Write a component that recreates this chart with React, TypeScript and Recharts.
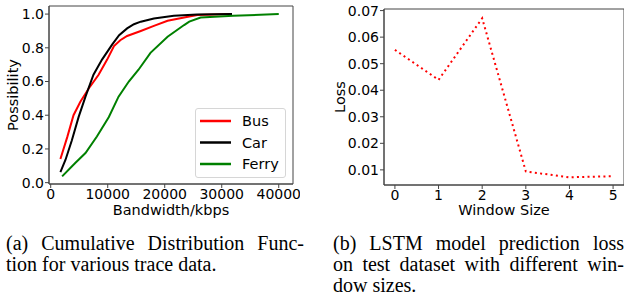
import React from 'react';
import { LineChart, Line, XAxis, YAxis, ReferenceArea, Legend, Label } from 'recharts';

// (a) CDF of bandwidth per trace type
const busBandwidth = [1700, 2900, 4000, 5200, 6700, 8400, 9900, 11100, 12200, 13400, 15800, 18100, 20500, 23400, 25700, 31800];
const busPossibility = [0.14, 0.27, 0.4, 0.48, 0.56, 0.64, 0.73, 0.81, 0.845, 0.87, 0.9, 0.93, 0.96, 0.98, 0.994, 1.0];

const carBandwidth = [1700, 2600, 3700, 4900, 6100, 7500, 9000, 10800, 12000, 13400, 14600, 15800, 18100, 21600, 25700, 31800];
const carPossibility = [0.063, 0.136, 0.25, 0.39, 0.51, 0.64, 0.73, 0.82, 0.875, 0.915, 0.94, 0.955, 0.974, 0.99, 0.998, 1.0];

const ferryBandwidth = [2000, 4300, 6100, 8100, 10200, 11900, 13700, 15400, 17500, 20500, 23400, 24300, 26300, 32000, 40000];
const ferryPossibility = [0.037, 0.117, 0.176, 0.274, 0.39, 0.51, 0.6, 0.67, 0.77, 0.866, 0.935, 0.955, 0.98, 0.99, 1.0];

const bandwidthTicks = [0, 10000, 20000, 30000, 40000];
const possibilityTicks = [0, 0.2, 0.4, 0.6, 0.8, 1.0];

// (b) LSTM loss vs window size
const windowSizes = [0, 1, 2, 3, 4, 5];
const lossValues = [0.0552, 0.0439, 0.0671, 0.0094, 0.0072, 0.0076];
const lossTicks = [0.01, 0.02, 0.03, 0.04, 0.05, 0.06, 0.07];

const zip = (xs: number[], ys: number[]) => xs.map((x, i) => ({ x, y: ys[i] }));

const cdfSeries = [
  { name: 'Bus', color: '#ff0000', data: zip(busBandwidth, busPossibility) },
  { name: 'Car', color: '#000000', data: zip(carBandwidth, carPossibility) },
  { name: 'Ferry', color: '#008000', data: zip(ferryBandwidth, ferryPossibility) },
];
const lossData = zip(windowSizes, lossValues);

const font = '"DejaVu Sans", sans-serif';
const serif = '"Liberation Serif", "Times New Roman", serif';
const tickStyle = { fontFamily: font, fontSize: 14, fill: '#000' };
const labelStyle = { fontFamily: font, fontSize: 14.5, fill: '#000' };
const spine = '#444';

function CdfLegend() {
  return (
    <div style={{ width: 91, height: 70, boxSizing: 'border-box', border: '1px solid #d6d6d6', borderRadius: 3, background: 'rgba(255,255,255,0.8)' }}>
      <svg width={89} height={68} style={{ display: 'block' }}>
        {cdfSeries.map((s, i) => {
          const cy = 12 + i * 21.5;
          return (
            <g key={s.name}>
              <line x1={4} x2={35} y1={cy} y2={cy} stroke={s.color} strokeWidth={2.5} />
              <text x={46} y={cy + 5} fontFamily={font} fontSize={14.5} fill="#000">{s.name}</text>
            </g>
          );
        })}
      </svg>
    </div>
  );
}

const captionLine = (justify: boolean): React.CSSProperties => ({
  height: 21.3,
  textAlign: justify ? 'justify' : 'left',
  textAlignLast: justify ? 'justify' : 'left',
  whiteSpace: 'nowrap',
});

export default function App() {
  return (
    <div style={{ position: 'absolute', left: 0, top: 0, width: 624, height: 306, overflow: 'hidden', background: '#fff' }}>
      <div style={{ position: 'absolute', left: 0, top: 0 }}>
        <LineChart width={300} height={220} margin={{ top: 6, right: 7, bottom: 0, left: 0 }}>
          <XAxis
            dataKey="x"
            type="number"
            domain={[-300, 42500]}
            allowDataOverflow
            ticks={bandwidthTicks}
            tick={tickStyle}
            tickSize={4}
            tickMargin={1}
            height={36}
            stroke={spine}
          >
            <Label value="Bandwidth/kbps" position="insideBottom" offset={5} style={labelStyle} />
          </XAxis>
          <YAxis
            type="number"
            domain={[-0.008, 1.048]}
            allowDataOverflow
            ticks={possibilityTicks}
            tickFormatter={(v: number) => v.toFixed(1)}
            tick={tickStyle}
            tickSize={4}
            tickMargin={1}
            width={49}
            stroke={spine}
          >
            <Label value="Possibility" angle={-90} position="insideLeft" offset={13} style={{ ...labelStyle, textAnchor: 'middle' }} />
          </YAxis>
          {cdfSeries.map((s) => (
            <Line key={s.name} data={s.data} dataKey="y" name={s.name} type="linear" stroke={s.color} strokeWidth={2} dot={false} isAnimationActive={false} />
          ))}
          <ReferenceArea x1={-300} x2={42500} y1={-0.008} y2={1.048} fill="none" stroke={spine} strokeWidth={1} />
          <Legend
            layout="vertical"
            align="center"
            verticalAlign="middle"
            content={() => <CdfLegend />}
            wrapperStyle={{ left: 195, top: 108, width: 91, height: 70 }}
          />
        </LineChart>
      </div>

      <div style={{ position: 'absolute', left: 320, top: 0 }}>
        <LineChart width={306} height={220} data={lossData} margin={{ top: 9, right: 2, bottom: 0, left: 0 }}>
          <XAxis
            dataKey="x"
            type="number"
            domain={[-0.25, 5.25]}
            allowDataOverflow
            ticks={windowSizes}
            tick={tickStyle}
            tickSize={4}
            tickMargin={1}
            height={35}
            stroke={spine}
          >
            <Label value="Window Size" position="insideBottom" offset={5} style={labelStyle} />
          </XAxis>
          <YAxis
            type="number"
            domain={[0.0043, 0.0706]}
            allowDataOverflow
            ticks={lossTicks}
            tickFormatter={(v: number) => v.toFixed(2)}
            tick={tickStyle}
            tickSize={4}
            tickMargin={1}
            width={64}
            stroke={spine}
          >
            <Label value="Loss" angle={-90} position="insideLeft" offset={20} style={{ ...labelStyle, textAnchor: 'middle' }} />
          </YAxis>
          <Line dataKey="y" type="linear" stroke="#ff0000" strokeWidth={2} strokeDasharray="2 3.3" dot={false} isAnimationActive={false} />
          <ReferenceArea x1={-0.25} x2={5.25} y1={0.0043} y2={0.0706} fill="none" stroke={spine} strokeWidth={1} />
        </LineChart>
      </div>

      <div style={{ position: 'absolute', left: 6, top: 232.6, width: 298, fontFamily: serif, fontSize: 20, lineHeight: '21.3px', color: '#000' }}>
        <div style={captionLine(true)}>(a) Cumulative Distribution Func-</div>
        <div style={captionLine(false)}>tion for various trace data.</div>
      </div>
      <div style={{ position: 'absolute', left: 333, top: 232.6, width: 291, fontFamily: serif, fontSize: 20, lineHeight: '21.3px', color: '#000' }}>
        <div style={captionLine(true)}>(b) LSTM model prediction loss</div>
        <div style={captionLine(true)}>on test dataset with different win-</div>
        <div style={captionLine(false)}>dow sizes.</div>
      </div>
    </div>
  );
}
